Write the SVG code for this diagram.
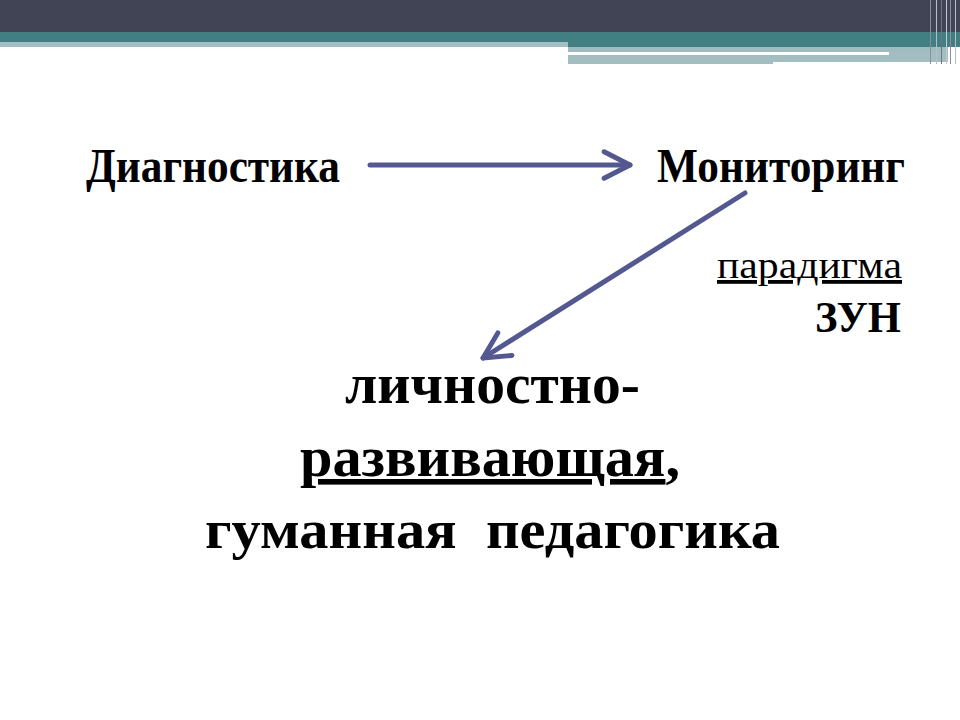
<svg xmlns="http://www.w3.org/2000/svg" width="960" height="720" viewBox="0 0 960 720">
<style>
.b{font-family:"Liberation Serif","Times New Roman",serif;font-weight:bold;fill:#000}
.r{font-family:"Liberation Serif","Times New Roman",serif;fill:#000}
.c{stroke:#545890;stroke-width:5;fill:none;stroke-linecap:round;stroke-linejoin:round}
</style>
<defs>
<marker id="ah" viewBox="0 0 10 10" refX="8.6" refY="5" markerWidth="7" markerHeight="7" orient="auto" markerUnits="strokeWidth">
<path d="M1.2,1.2 L8.6,5 L1.2,8.8" fill="none" stroke="#545890" stroke-width="1.4" stroke-linecap="round" stroke-linejoin="round"/>
</marker>
</defs>
<rect width="960" height="720" fill="#fff"/>
<g id="header">
<rect x="0" y="0" width="960" height="32" fill="#414455"/>
<rect x="0" y="32" width="960" height="10" fill="#417F82"/>
<rect x="0" y="42" width="568" height="5" fill="#A3BDC1"/>
<rect x="568" y="42" width="392" height="5" fill="#417F82"/>
<rect x="568" y="47" width="380" height="5" fill="#9FBCC0"/>
<rect x="568" y="52" width="321" height="3" fill="#fff"/>
<rect x="889" y="52" width="59" height="3" fill="#A3BDC1"/>
<rect x="568" y="55" width="205" height="9" fill="#A3BDC1"/>
<rect x="773" y="55" width="175" height="7" fill="#A3BDC1"/>
<g stroke-width="1">
<line x1="930.5" y1="0" x2="930.5" y2="64" stroke="#8a8d9e"/>
<line x1="936.5" y1="0" x2="936.5" y2="64" stroke="#b8bcc6"/>
<line x1="941.5" y1="0" x2="941.5" y2="64" stroke="#6f7385"/>
<line x1="946.5" y1="0" x2="946.5" y2="64" stroke="#c9ccd4"/>
<line x1="950.5" y1="0" x2="950.5" y2="64" stroke="#8a8d9e"/>
<line x1="955.5" y1="0" x2="955.5" y2="64" stroke="#b8bcc6"/>
</g>
</g>
<g id="diagnostika"><text class="b" x="86" y="182" font-size="48" textLength="254" lengthAdjust="spacingAndGlyphs">Диагностика</text></g>
<g id="monitoring"><text class="b" x="657" y="182" font-size="48" textLength="248" lengthAdjust="spacingAndGlyphs">Мониторинг</text></g>
<g id="paradigma">
<text class="r" x="717" y="278" font-size="38" textLength="185" lengthAdjust="spacingAndGlyphs" text-decoration="underline">парадигма</text>
<text class="b" x="815" y="332" font-size="44" textLength="86" lengthAdjust="spacingAndGlyphs">ЗУН</text>
</g>
<g id="center">
<text class="b" x="345" y="403" font-size="56" textLength="295" lengthAdjust="spacingAndGlyphs">личностно-</text>
<text class="b" x="300" y="476" font-size="56" textLength="380" lengthAdjust="spacingAndGlyphs"><tspan text-decoration="underline">развивающая</tspan>,</text>
<text class="b" x="205" y="548" font-size="54" textLength="575" lengthAdjust="spacingAndGlyphs" xml:space="preserve">гуманная  педагогика</text>
</g>
<g id="connectors">
<line class="c" x1="370" y1="165" x2="630" y2="165" marker-end="url(#ah)"/>
<line class="c" x1="745" y1="193" x2="483" y2="358" marker-end="url(#ah)"/>
</g>
</svg>
